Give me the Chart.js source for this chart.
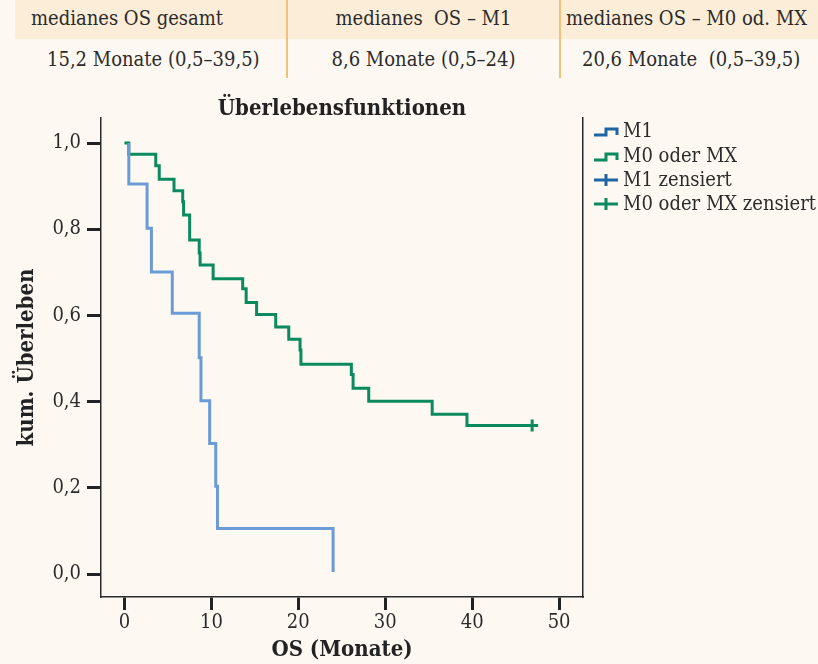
<!DOCTYPE html>
<html>
<head>
<meta charset="utf-8">
<script src="https://cdn.jsdelivr.net/npm/chart.js@4"></script>
<style>
  body { margin: 0; background: #fdf8f1; }
  #wrap { position: relative; width: 818px; height: 664px; overflow: hidden; font-family: "DejaVu Serif Condensed", "DejaVu Serif", serif; font-stretch: condensed; color: #2b2b2b; }
  .head { position: absolute; left: 15px; top: 0; width: 803px; height: 39px; background: #fcedd8; }
  .cell { position: absolute; font-size: 20px; line-height: 23px; white-space: nowrap; }
  .sep { position: absolute; top: 0; width: 2px; height: 78px; background: #f2c27a; }
  canvas { position: absolute; left: 0; top: 0; }
</style>
</head>
<body>
<div id="wrap">
  <div class="head"></div>
  <div class="sep" style="left:286px"></div>
  <div class="sep" style="left:559px"></div>
  <div class="cell" style="left:31px; top:7px">medianes OS gesamt</div>
  <div class="cell" style="left:287px; width:273px; text-align:center; top:7px">medianes&nbsp; OS – M1</div>
  <div class="cell" style="left:566px; top:7px">medianes OS – M0 od. MX</div>
  <div class="cell" style="left:47px; top:48px">15,2 Monate (0,5–39,5)</div>
  <div class="cell" style="left:287px; width:273px; text-align:center; top:48px">8,6 Monate (0,5–24)</div>
  <div class="cell" style="left:582px; top:48px">20,6 Monate&nbsp; (0,5–39,5)</div>
  <canvas id="km" width="818" height="664"></canvas>
</div>
<script>
// Kaplan-Meier Daten
const m1Time = [0.5, 0.5, 2.6, 3.1, 5.5, 8.6, 8.8, 9.8, 10.5, 10.7, 24.0];
const m1Surv = [1.0, 0.905, 0.802, 0.701, 0.605, 0.502, 0.402, 0.303, 0.204, 0.106, 0.005];

const m0Time = [0, 0.5, 3.6, 4.0, 5.7, 6.7, 6.8, 7.5, 8.6, 8.7, 10.2, 13.6, 14.0, 15.2, 17.4, 18.9, 20.2, 20.3, 26.1, 26.3, 28.1, 35.4, 39.4, 46.9];
const m0Surv = [1.0, 0.974, 0.947, 0.916, 0.889, 0.864, 0.833, 0.775, 0.745, 0.717, 0.685, 0.662, 0.630, 0.602, 0.573, 0.545, 0.520, 0.487, 0.463, 0.431, 0.401, 0.371, 0.345, 0.345];

const m1CensTime = [];
const m1CensSurv = [];
const m0CensTime = [46.9];
const m0CensSurv = [0.345];

const xTicks = [0, 10, 20, 30, 40, 50];
const yTicks = [0, 0.2, 0.4, 0.6, 0.8, 1.0];

const legendLabels = ['M1', 'M0 oder MX', 'M1 zensiert', 'M0 oder MX zensiert'];

const FONT = '"DejaVu Serif Condensed", "DejaVu Serif", serif';
const BLUE = '#6b9bd6';
const BLUE_DARK = '#1f64a4';
const GREEN = '#0a8a5e';

function toPoints(xs, ys) {
    return xs.map((x, i) => ({ x: x, y: ys[i] }));
}

// Titel und Legende selbst zeichnen
const extras = {
    id: 'extras',
    afterDraw(chart) {
        const ctx = chart.ctx;
        const area = chart.chartArea;
        ctx.save();
        ctx.fillStyle = '#222';
        ctx.font = 'bold 22px ' + FONT;
        ctx.textAlign = 'center';
        ctx.textBaseline = 'middle';
        ctx.fillText('Überlebensfunktionen', (area.left + area.right) / 2, 109);

        const colors = [BLUE_DARK, GREEN, BLUE_DARK, GREEN];
        const rows = [131, 156, 180, 204];
        ctx.font = '20px ' + FONT;
        ctx.textAlign = 'left';
        legendLabels.forEach((txt, i) => {
            const y = rows[i];
            ctx.strokeStyle = colors[i];
            ctx.lineWidth = 3;
            ctx.beginPath();
            if (i < 2) {
                ctx.moveTo(594, y + 4);
                ctx.lineTo(606, y + 4);
                ctx.lineTo(606, y - 2);
                ctx.lineTo(617, y - 2);
                ctx.lineTo(617, y + 4);
            } else {
                ctx.moveTo(594, y);
                ctx.lineTo(618, y);
                ctx.moveTo(606, y - 6);
                ctx.lineTo(606, y + 6);
            }
            ctx.stroke();
            ctx.fillStyle = '#2b2b2b';
            ctx.fillText(txt, 623, y + 1);
        });
        ctx.restore();
    }
};

const chart = new Chart(document.getElementById('km'), {
    type: 'line',
    data: {
        datasets: [
            {
                label: 'M1',
                data: toPoints(m1Time, m1Surv),
                stepped: 'before',
                borderColor: BLUE,
                borderWidth: 3,
                pointRadius: 0,
                fill: false
            },
            {
                label: 'M0 oder MX',
                data: toPoints(m0Time, m0Surv),
                stepped: 'before',
                borderColor: GREEN,
                borderWidth: 3,
                pointRadius: 0,
                fill: false
            },
            {
                label: 'M1 zensiert',
                type: 'scatter',
                data: toPoints(m1CensTime, m1CensSurv),
                pointStyle: 'cross',
                pointRadius: 6,
                borderColor: BLUE_DARK,
                borderWidth: 3
            },
            {
                label: 'M0 oder MX zensiert',
                type: 'scatter',
                data: toPoints(m0CensTime, m0CensSurv),
                pointStyle: 'cross',
                pointRadius: 6,
                borderColor: GREEN,
                borderWidth: 3
            }
        ]
    },
    options: {
        responsive: false,
        animation: false,
        layout: { padding: { left: 0, right: 235, top: 118, bottom: 0 } },
        plugins: {
            legend: { display: false },
            title: { display: false },
            tooltip: { enabled: false }
        },
        scales: {
            x: {
                type: 'linear',
                min: -2.7,
                max: 52.75,
                afterBuildTicks: s => { s.ticks = xTicks.map(v => ({ value: v })); },
                afterFit: s => { s.height = 67; },
                border: { display: true, color: '#2a2a2a', width: 1.5 },
                grid: { display: true, drawOnChartArea: false, drawTicks: true, tickLength: 13, tickWidth: 3, tickColor: '#222' },
                ticks: { color: '#2b2b2b', padding: 1, font: { family: FONT, size: 20 } },
                title: {
                    display: true,
                    text: 'OS (Monate)',
                    color: '#222',
                    padding: { top: 0, bottom: 1 },
                    font: { family: FONT, size: 22, weight: 'bold' }
                }
            },
            y: {
                type: 'linear',
                min: -0.053,
                max: 1.058,
                afterBuildTicks: s => { s.ticks = yTicks.map(v => ({ value: v })); },
                afterFit: s => { s.width = 101; },
                border: { display: true, color: '#2a2a2a', width: 1.5 },
                grid: { display: true, drawOnChartArea: false, drawTicks: true, tickLength: 14, tickWidth: 3, tickColor: '#222' },
                ticks: {
                    color: '#2b2b2b',
                    padding: 6,
                    font: { family: FONT, size: 20 },
                    callback: v => v.toFixed(1).replace('.', ',')
                },
                title: {
                    display: true,
                    text: 'kum. Überleben',
                    color: '#222',
                    padding: { top: 14, bottom: 0 },
                    font: { family: FONT, size: 22, weight: 'bold' }
                }
            },
            yRight: {
                type: 'linear',
                position: 'right',
                min: -0.053,
                max: 1.058,
                afterFit: s => { s.width = 0; },
                border: { display: true, color: '#2a2a2a', width: 1.5 },
                grid: { display: false },
                ticks: { display: false }
            }
        }
    },
    plugins: [extras]
});
</script>
</body>
</html>
